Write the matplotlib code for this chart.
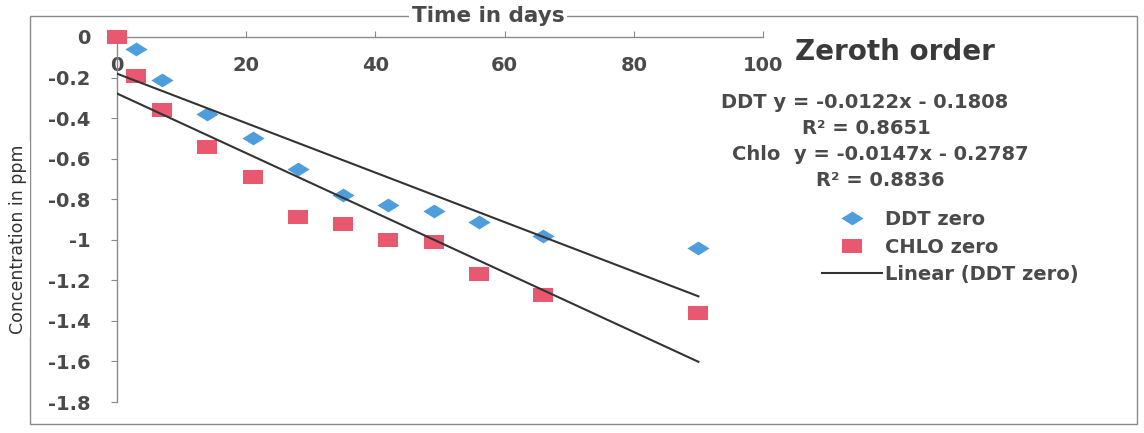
import numpy as np
import matplotlib
matplotlib.use("Agg")
import matplotlib.pyplot as plt
from matplotlib.path import Path
from matplotlib.lines import Line2D
from matplotlib.patches import Rectangle

# ---- data ----
days = [0, 3, 7, 14, 21, 28, 35, 42, 49, 56, 66, 90]
ddt_zero = [0, -0.06, -0.21, -0.38, -0.50, -0.65, -0.78, -0.83, -0.86, -0.91, -0.98, -1.04]
chlo_zero = [0, -0.19, -0.36, -0.54, -0.69, -0.89, -0.92, -1.00, -1.01, -1.17, -1.27, -1.36]
ddt_fit = (-0.0122, -0.1808)
chlo_fit = (-0.0147, -0.2787)
ddt_r2 = 0.8651
chlo_r2 = 0.8836
x_ticks = [0, 20, 40, 60, 80, 100]
y_ticks = [0, -0.2, -0.4, -0.6, -0.8, -1, -1.2, -1.4, -1.6, -1.8]
y_tick_labels = ["0", "-0.2", "-0.4", "-0.6", "-0.8", "-1", "-1.2", "-1.4", "-1.6", "-1.8"]

W, H = 1144, 433
fig = plt.figure(figsize=(W / 100, H / 100), dpi=100)
fig.patch.set_facecolor("white")

def fx(px):
    return px / W

def fy(py):
    return 1 - py / H

ax = fig.add_axes([fx(117), fy(402), fx(763) - fx(117), fy(37) - fy(402)])
ax.set_facecolor("none")

txt_col = "#4a4a4a"
blue = "#4e9ddc"
red = "#e8596f"
line_col = "#333333"

diamond = Path([(-1, 0), (0, 0.62), (1, 0), (0, -0.62), (-1, 0)],
               [Path.MOVETO, Path.LINETO, Path.LINETO, Path.LINETO, Path.CLOSEPOLY])
rect = Path([(-1, -0.66), (1, -0.66), (1, 0.66), (-1, 0.66), (-1, -0.66)],
            [Path.MOVETO, Path.LINETO, Path.LINETO, Path.LINETO, Path.CLOSEPOLY])

ax.plot(days, ddt_zero, linestyle="none", marker=diamond, markersize=16,
        color=blue, markeredgewidth=0, zorder=3, clip_on=False)
ax.plot(days, chlo_zero, linestyle="none", marker=rect, markersize=15,
        color=red, markeredgewidth=0, zorder=4, clip_on=False)

xs = np.array([min(days), max(days)])
ax.plot(xs, ddt_fit[0] * xs + ddt_fit[1], color=line_col, lw=1.5, zorder=5)
ax.plot(xs, chlo_fit[0] * xs + chlo_fit[1], color=line_col, lw=1.5, zorder=5)

ax.set_xlim(0, 100)
ax.set_ylim(-1.8, 0)
for s in ["right", "bottom"]:
    ax.spines[s].set_visible(False)
for s in ["left", "top"]:
    ax.spines[s].set_color("#8a8a8a")
    ax.spines[s].set_linewidth(1.0)

ax.xaxis.tick_top()
ax.set_xticks(x_ticks)
ax.set_xticklabels([str(v) for v in x_ticks])
ax.tick_params(axis="x", direction="out", length=4, color="#8a8a8a",
               pad=-31.5, labelsize=14, labelcolor=txt_col)
ax.set_yticks(y_ticks)
ax.set_yticklabels(y_tick_labels)
ax.tick_params(axis="y", direction="out", length=4, color="#8a8a8a",
               pad=15, labelsize=14, labelcolor=txt_col)
for lab in ax.get_xticklabels() + ax.get_yticklabels():
    lab.set_fontweight("bold")

# outer chart frame
fig.add_artist(Rectangle((fx(30), fy(424)), fx(1137) - fx(30), fy(16) - fy(424),
                         transform=fig.transFigure, fill=False,
                         edgecolor="#8a8a8a", lw=1.0, zorder=0))

fig.text(fx(488), fy(16), "Time in days", ha="center", va="center",
         fontsize=15.5, fontweight="bold", color=txt_col,
         bbox=dict(facecolor="white", edgecolor="none", pad=2), zorder=10)
fig.text(fx(18), fy(239), "Concentration in ppm", ha="center", va="center",
         rotation=90, fontsize=12.5, color="#333333",
         bbox=dict(facecolor="white", edgecolor="none", pad=2), zorder=10)

fig.text(fx(895), fy(52), "Zeroth order", ha="center", va="center",
         fontsize=20, fontweight="bold", color="#3a3a3a")
fs_eq = 14
fig.text(fx(865), fy(103), f"DDT y = {ddt_fit[0]}x - {abs(ddt_fit[1])}",
         ha="center", va="center", fontsize=fs_eq, fontweight="bold", color=txt_col)
fig.text(fx(866), fy(128), f"R² = {ddt_r2}",
         ha="center", va="center", fontsize=fs_eq, fontweight="bold", color=txt_col)
fig.text(fx(880), fy(155), f"Chlo  y = {chlo_fit[0]}x - {abs(chlo_fit[1])}",
         ha="center", va="center", fontsize=fs_eq, fontweight="bold", color=txt_col)
fig.text(fx(880), fy(180), f"R² = {chlo_r2}",
         ha="center", va="center", fontsize=fs_eq, fontweight="bold", color=txt_col)

handles = [
    Line2D([], [], linestyle="none", marker=diamond, markersize=16, color=blue, markeredgewidth=0),
    Line2D([], [], linestyle="none", marker=rect, markersize=15, color=red, markeredgewidth=0),
    Line2D([], [], color=line_col, lw=1.5),
]
labels = ["DDT zero", "CHLO zero", "Linear (DDT zero)"]
leg = fig.legend(handles, labels, loc="upper left",
                 bbox_to_anchor=(fx(822), fy(210)), bbox_transform=fig.transFigure,
                 frameon=False, borderpad=0, borderaxespad=0, handlelength=3.1,
                 handletextpad=0.15, labelspacing=0.44, fontsize=14)
for t in leg.get_texts():
    t.set_fontweight("bold")
    t.set_color(txt_col)

fig.savefig("out.png", dpi=100, facecolor="white")
